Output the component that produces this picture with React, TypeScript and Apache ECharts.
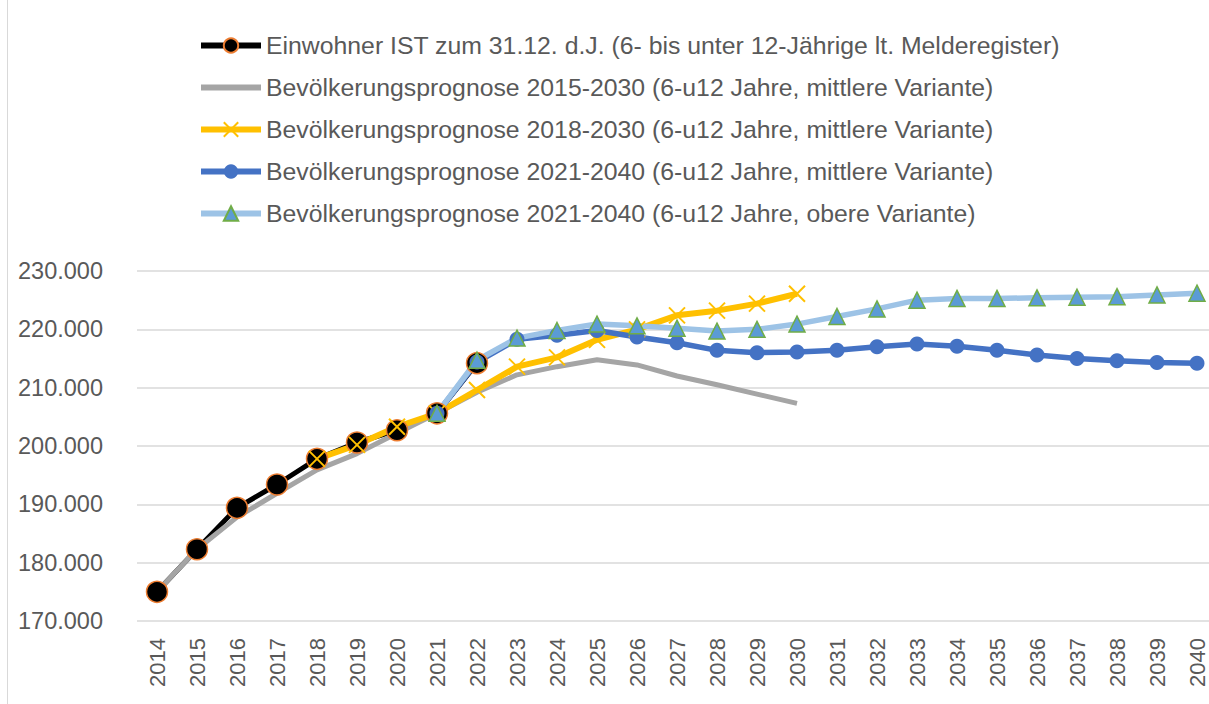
import React, { useEffect, useRef } from "react";
import * as echarts from "echarts";

const years = ["2014","2015","2016","2017","2018","2019","2020","2021","2022","2023","2024","2025","2026","2027","2028","2029","2030","2031","2032","2033","2034","2035","2036","2037","2038","2039","2040"];

const seriesNames = [
  "Einwohner IST zum 31.12. d.J. (6- bis unter 12-Jährige lt. Melderegister)",
  "Bevölkerungsprognose 2015-2030 (6-u12 Jahre, mittlere Variante)",
  "Bevölkerungsprognose 2018-2030 (6-u12 Jahre, mittlere Variante)",
  "Bevölkerungsprognose 2021-2040 (6-u12 Jahre, mittlere Variante)",
  "Bevölkerungsprognose 2021-2040 (6-u12 Jahre, obere Variante)",
];

const ist = [175000, 182300, 189400, 193400, 197800, 200600, 202700, 205600, 214200];
const prog2015 = [175000, 182300, 187800, 191900, 195900, 198700, 202200, 205600, 209200, 212200, 213600, 214800, 213900, 212000, 210500, 208900, 207300];
const prog2018 = [null, null, null, null, 197800, 200200, 203300, 205600, 209600, 213600, 215200, 218200, 220000, 222400, 223200, 224400, 226100];
const prog2021m = [null, null, null, null, null, null, null, 205600, 214400, 218300, 219000, 219800, 218700, 217700, 216400, 216000, 216100, 216400, 217000, 217500, 217100, 216400, 215600, 215000, 214600, 214300, 214200];
const prog2021o = [null, null, null, null, null, null, null, 205600, 214700, 218500, 219800, 220900, 220600, 220200, 219700, 220000, 220900, 222200, 223500, 225000, 225300, 225300, 225400, 225500, 225600, 225900, 226200];

const yTicks = { min: 170000, max: 230000, step: 10000 };

export default function App() {
  const ref = useRef<HTMLDivElement>(null);
  useEffect(() => {
    document.body.style.margin = "0";
    const chart = echarts.init(ref.current!, null, { renderer: "svg" });
    const font = "'Liberation Sans', sans-serif";
    chart.setOption({
      animation: false,
      backgroundColor: "#ffffff",
      textStyle: { fontFamily: font },
      graphic: [
        { type: "line", shape: { x1: 7.5, y1: 0, x2: 7.5, y2: 704 }, style: { stroke: "#D9D9D9", lineWidth: 1 } },
      ],
      legend: {
        orient: "vertical",
        left: 193,
        top: 28,
        itemWidth: 60,
        itemHeight: 18,
        itemGap: 17,
        lineStyle: { width: 6 },
        textStyle: { fontSize: 24.8, color: "#595959", fontFamily: font },
        data: seriesNames,
      },
      grid: { left: 137, width: 1080, top: 271, bottom: 83, containLabel: false, outerBoundsMode: "none" },
      xAxis: {
        type: "category",
        data: years,
        boundaryGap: true,
        axisLine: { show: false },
        axisTick: { show: false },
        axisLabel: { rotate: 90, fontSize: 22, color: "#595959", margin: 17, fontFamily: font },
      },
      yAxis: {
        type: "value",
        min: yTicks.min,
        max: yTicks.max,
        interval: yTicks.step,
        axisLine: { show: false },
        axisTick: { show: false },
        splitLine: { lineStyle: { color: "#D9D9D9", width: 1.5 } },
        axisLabel: {
          fontSize: 23.5,
          color: "#595959",
          margin: 34,
          fontFamily: font,
          formatter: (v: number) => String(v).replace(/\B(?=(\d{3})+(?!\d))/g, "."),
        },
      },
      series: [
        {
          name: seriesNames[0],
          type: "line",
          data: ist,
          lineStyle: { color: "#000000", width: 5 },
          itemStyle: { color: "#000000", borderColor: "#ED7D31", borderWidth: 1.5 },
          symbol: "circle",
          symbolSize: 21,
        },
        {
          name: seriesNames[1],
          type: "line",
          data: prog2015,
          lineStyle: { color: "#A5A5A5", width: 5 },
          itemStyle: { color: "rgba(0,0,0,0)", borderWidth: 0 },
          showSymbol: false,
          symbol: "none",
        },
        {
          name: seriesNames[2],
          type: "line",
          data: prog2018,
          lineStyle: { color: "#FFC000", width: 6 },
          itemStyle: { color: "rgba(0,0,0,0)", borderColor: "#FFC000", borderWidth: 2 },
          symbol: "path://M0,0L10,10M10,0L0,10",
          symbolSize: 16,
        },
        {
          name: seriesNames[3],
          type: "line",
          data: prog2021m,
          lineStyle: { color: "#4472C4", width: 5.5 },
          itemStyle: { color: "#4472C4" },
          symbol: "circle",
          symbolSize: 15,
        },
        {
          name: seriesNames[4],
          type: "line",
          data: prog2021o,
          lineStyle: { color: "#9DC3E6", width: 5.5 },
          itemStyle: { color: "#5B9BD5", borderColor: "#70AD47", borderWidth: 1.5 },
          symbol: "triangle",
          symbolSize: 16,
        },
      ],
    });
    return () => chart.dispose();
  }, []);
  return <div ref={ref} style={{ width: 1209, height: 704 }} />;
}
